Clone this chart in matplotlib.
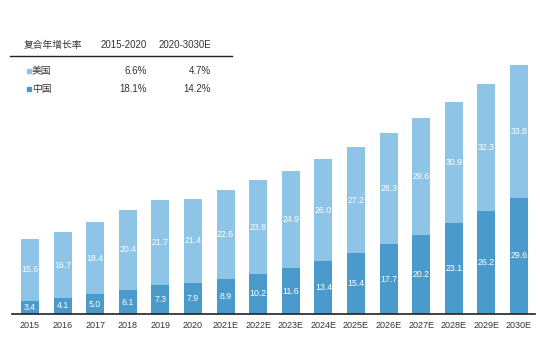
import matplotlib
matplotlib.use('Agg')
import matplotlib.pyplot as plt

plt.rcParams['font.family'] = ['Liberation Sans', 'Noto Sans CJK SC', 'DejaVu Sans']

years = ['2015', '2016', '2017', '2018', '2019', '2020', '2021E', '2022E',
         '2023E', '2024E', '2025E', '2026E', '2027E', '2028E', '2029E', '2030E']
china = [3.4, 4.1, 5.0, 6.1, 7.3, 7.9, 8.9, 10.2, 11.6, 13.4, 15.4, 17.7, 20.2, 23.1, 26.2, 29.6]
usa = [15.6, 16.7, 18.4, 20.4, 21.7, 21.4, 22.6, 23.8, 24.9, 26.0, 27.2, 28.3, 29.6, 30.9, 32.3, 33.8]

cagr_header = ['复合年增长率', '2015-2020', '2020-3030E']
cagr_rows = [('美国', '6.6%', '4.7%'), ('中国', '18.1%', '14.2%')]

light = '#8ec4e6'
dark = '#4a9bcb'
txt = '#333333'

W, H = 540, 340
fig = plt.figure(figsize=(W / 100, H / 100), dpi=100)
# axes runs from px 12 to 535, baseline 26 px above the bottom
ax = fig.add_axes([12 / W, 26 / H, 523 / W, 1 - 26 / H])
step = (519 - 30) / 15
ax.set_xlim((12 - 30) / step, 15 + (535 - 519) / step)
ax.set_ylim(0, 314 / 3.93)

x = range(len(years))
ax.bar(x, china, width=0.55, color=dark, zorder=2)
ax.bar(x, usa, width=0.55, bottom=china, color=light, zorder=2)
for i in x:
    ax.text(i, china[i] / 2, f'{china[i]:.1f}', ha='center', va='center',
            color='white', fontsize=6.3)
    ax.text(i, china[i] + usa[i] / 2, f'{usa[i]:.1f}', ha='center', va='center',
            color='white', fontsize=6.3)

ax.set_xticks(list(x))
ax.set_xticklabels(years, fontsize=6.5, color=txt)
ax.tick_params(axis='x', length=0, pad=5)
ax.set_yticks([])
for s in ['top', 'right', 'left']:
    ax.spines[s].set_visible(False)
ax.spines['bottom'].set_color('#222222')
ax.spines['bottom'].set_linewidth(1.2)

# CAGR table in the upper left
def fx(px):
    return px / W

def fy(py):
    return 1 - py / H

fig.text(fx(24), fy(45), cagr_header[0], fontsize=7, color=txt, va='center')
fig.text(fx(147), fy(45), cagr_header[1], fontsize=7, color=txt, va='center', ha='right')
fig.text(fx(211), fy(45), cagr_header[2], fontsize=7, color=txt, va='center', ha='right')
fig.add_artist(plt.Line2D([fx(10), fx(232)], [fy(56), fy(56)], color='#222222', lw=1.0))
for (name, a, b), c, py in zip(cagr_rows, [light, dark], [71, 89]):
    fig.add_artist(plt.Rectangle((fx(27), fy(py) - 2 / H), 4 / W, 4 / H, color=c))
    fig.text(fx(32), fy(py), name, fontsize=7, color=txt, va='center')
    fig.text(fx(147), fy(py), a, fontsize=7, color=txt, va='center', ha='right')
    fig.text(fx(211), fy(py), b, fontsize=7, color=txt, va='center', ha='right')

fig.savefig('out.png', dpi=100)
